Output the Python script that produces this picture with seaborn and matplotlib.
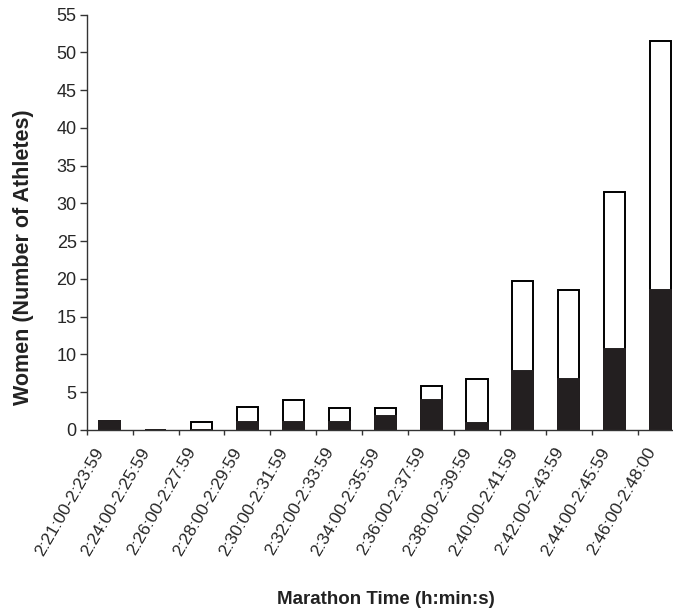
import numpy as np
import pandas as pd
import matplotlib
matplotlib.use("Agg")
import matplotlib.pyplot as plt
import matplotlib.transforms as mtransforms
import seaborn as sns

# dados (mulheres por faixa de tempo)
faixas = ["2:21:00-2:23:59", "2:24:00-2:25:59", "2:26:00-2:27:59", "2:28:00-2:29:59",
          "2:30:00-2:31:59", "2:32:00-2:33:59", "2:34:00-2:35:59", "2:36:00-2:37:59",
          "2:38:00-2:39:59", "2:40:00-2:41:59", "2:42:00-2:43:59", "2:44:00-2:45:59",
          "2:46:00-2:48:00"]
total = [1.2, 0, 1.1, 3.0, 4.0, 2.9, 2.9, 5.8, 6.7, 19.7, 18.6, 31.5, 51.5]
preto = [1.2, 0, 0, 1.1, 1.1, 1.0, 1.9, 4.0, 0.9, 7.8, 6.7, 10.7, 18.5]
yticks = list(range(0, 56, 5))

df = pd.DataFrame({"Faixa": faixas, "Total": total, "Preto": preto})

sns.set_style("white")
plt.rcParams["font.family"] = ["Liberation Sans", "DejaVu Sans"]

fig = plt.figure(figsize=(6.73, 6.13), dpi=100)
ax = fig.add_axes([86.7 / 673, 1 - 430 / 613, 596.9 / 673, 415.3 / 613])

sns.barplot(data=df, x="Faixa", y="Total", color="white", edgecolor="black",
            linewidth=1.4, width=0.46, saturation=1, ax=ax)
sns.barplot(data=df, x="Faixa", y="Preto", color="#231f20", edgecolor="#231f20",
            linewidth=1.4, width=0.46, saturation=1, ax=ax)

ax.set_xlim(-0.5, 12.5)
ax.set_ylim(0, 55)
ax.set_yticks(yticks)
ax.set_xlabel("")
ax.set_ylabel("")

for s in ["top", "right"]:
    ax.spines[s].set_visible(False)
for s in ["left", "bottom"]:
    ax.spines[s].set_color("#333333")
    ax.spines[s].set_linewidth(1.0)

ax.tick_params(axis="y", which="major", direction="out", length=4.8, width=1,
               color="#333333", pad=2.4, labelsize=13, left=True)
ax.set_xticks(np.arange(-0.5, 13, 1), minor=True)
ax.tick_params(axis="x", which="minor", direction="out", length=3.5, width=1,
               color="#333333", bottom=True)
ax.tick_params(axis="x", which="major", length=0, pad=13.5, labelsize=12.5)

desloc = mtransforms.ScaledTranslation(-9 / 100, 0, fig.dpi_scale_trans)
for lab in ax.get_xticklabels():
    lab.set_rotation(60)
    lab.set_ha("right")
    lab.set_va("center")
    lab.set_rotation_mode("anchor")
    lab.set_transform(lab.get_transform() + desloc)

fig.text(24 / 673, 1 - 257 / 613, "Women (Number of Athletes)", rotation=90,
         ha="center", va="center", fontsize=15.5, fontweight="bold", color="#222222")
fig.text(386 / 673, 1 - 600 / 613, "Marathon Time (h:min:s)",
         ha="center", va="center", fontsize=13.5, fontweight="bold", color="#222222")

fig.savefig("out.png", dpi=100)
